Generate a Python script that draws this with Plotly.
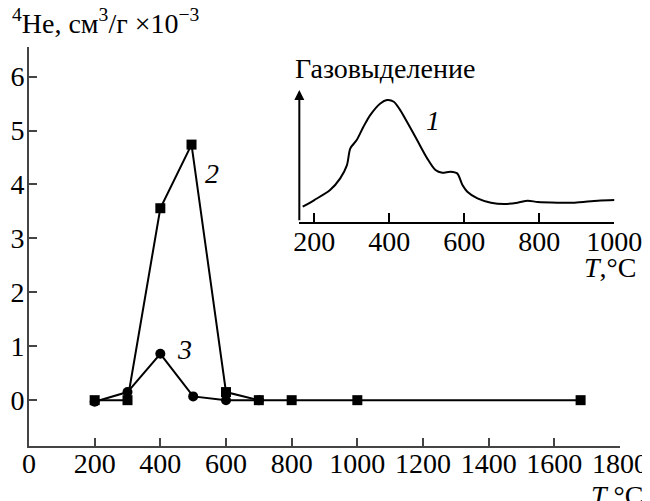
import plotly.graph_objects as go

# Main chart data
temp2 = [200, 300, 400, 495, 600, 700, 800, 1000, 1680]
he2 = [0.0, 0.0, 3.56, 4.74, 0.15, 0.0, 0.0, 0.0, 0.0]
temp3 = [200, 300, 400, 500, 600, 700]
he3 = [-0.03, 0.15, 0.86, 0.07, 0.0, 0.0]

# Inset curve (gas release), arbitrary units
temp1 = [169, 200, 242, 269, 287, 296, 313, 331, 349, 376, 394, 412, 429, 447, 474,
         501, 523, 541, 563, 581, 595, 608, 635, 671, 706, 742, 769, 796, 849, 894, 956, 1001]
gas1 = [0.45, 0.65, 0.95, 1.3, 1.7, 2.2, 2.45, 2.85, 3.2, 3.55, 3.65, 3.6, 3.35, 3.0, 2.45,
        1.9, 1.55, 1.47, 1.5, 1.45, 1.1, 0.9, 0.7, 0.57, 0.53, 0.57, 0.63, 0.59, 0.57, 0.57, 0.63, 0.65]

main_ticks_x = [0, 200, 400, 600, 800, 1000, 1200, 1400, 1600, 1800]
main_ticks_y = [0, 1, 2, 3, 4, 5, 6]
inset_ticks_x = [200, 400, 600, 800, 1000]

FONT = "Liberation Serif"
FS = 28
AX = "#444444"

fig = go.Figure()
fig.add_trace(go.Scatter(x=temp2, y=he2, mode="lines+markers",
                         line=dict(color="black", width=2),
                         marker=dict(symbol="square", size=10, color="black"),
                         showlegend=False, hoverinfo="skip"))
fig.add_trace(go.Scatter(x=temp3, y=he3, mode="lines+markers",
                         line=dict(color="black", width=2),
                         marker=dict(symbol="circle", size=10, color="black"),
                         showlegend=False, hoverinfo="skip"))
fig.add_trace(go.Scatter(x=temp1, y=gas1, mode="lines", xaxis="x2", yaxis="y2",
                         line=dict(color="black", width=2, shape="spline", smoothing=0.8),
                         showlegend=False, hoverinfo="skip"))

fig.update_layout(
    width=642, height=493,
    margin=dict(l=21, r=30, t=39, b=55),
    paper_bgcolor="white", plot_bgcolor="white",
    font=dict(family=FONT, size=FS, color="black"),
    xaxis=dict(range=[0, 1800], tickvals=main_ticks_x, ticks="inside", ticklen=8,
               tickwidth=2, tickcolor=AX, showline=True, linecolor=AX, linewidth=2,
               showgrid=False, zeroline=False, domain=[0, 1], automargin=False,
               ticklabelstandoff=-9, tickfont=dict(family=FONT, size=FS)),
    yaxis=dict(range=[-0.85, 6.55], tickvals=main_ticks_y, ticks="inside", ticklen=8,
               tickwidth=2, tickcolor=AX, showline=True, linecolor=AX, linewidth=2,
               showgrid=False, zeroline=False, domain=[0, 1], automargin=False,
               ticklabelstandoff=-3, tickfont=dict(family=FONT, size=FS)),
    xaxis2=dict(range=[160, 1000], tickvals=inset_ticks_x, ticks="inside", ticklen=9,
                tickwidth=2, tickcolor="black", showline=True, linecolor="black", linewidth=2,
                showgrid=False, zeroline=False, domain=[0.4574, 0.9904], anchor="y2",
                automargin=False, ticklabelstandoff=-6, tickfont=dict(family=FONT, size=FS)),
    yaxis2=dict(range=[0, 3.95], showticklabels=False, ticks="", showline=False,
                showgrid=False, zeroline=False, domain=[0.5622, 0.892], anchor="x2",
                automargin=False),
    annotations=[
        dict(text="<sup>4</sup>He, см<sup>3</sup>/г ×10<sup>−3</sup>", xref="paper", yref="paper",
             x=-0.032, y=1.0627, xanchor="left", yanchor="middle", showarrow=False,
             font=dict(family=FONT, size=FS)),
        dict(text="<i>T</i>,°C", xref="paper", yref="paper", x=1.0423, y=-0.1253,
             xanchor="right", yanchor="middle", showarrow=False, font=dict(family=FONT, size=FS)),
        dict(text="<i>2</i>", x=556, y=4.2, xref="x", yref="y", showarrow=False,
             font=dict(family=FONT, size=FS)),
        dict(text="<i>3</i>", x=475, y=0.94, xref="x", yref="y", showarrow=False,
             font=dict(family=FONT, size=FS)),
        dict(text="<i>1</i>", x=517, y=3.05, xref="x2", yref="y2", showarrow=False,
             font=dict(family=FONT, size=FS)),
        dict(text="Газовыделение", xref="paper", yref="paper", x=0.4467, y=0.947,
             xanchor="left", yanchor="middle", showarrow=False, font=dict(family=FONT, size=FS)),
        dict(text="<i>T</i>,°C", xref="paper", yref="paper", x=1.0305, y=0.4486,
             xanchor="right", yanchor="middle", showarrow=False, font=dict(family=FONT, size=FS)),
        dict(text="", x=160, y=3.95, ax=160, ay=0, xref="x2", yref="y2", axref="x2", ayref="y2",
             showarrow=True, arrowhead=2, arrowsize=1, arrowwidth=2, arrowcolor="black"),
    ],
)

fig.write_html("out.html")
